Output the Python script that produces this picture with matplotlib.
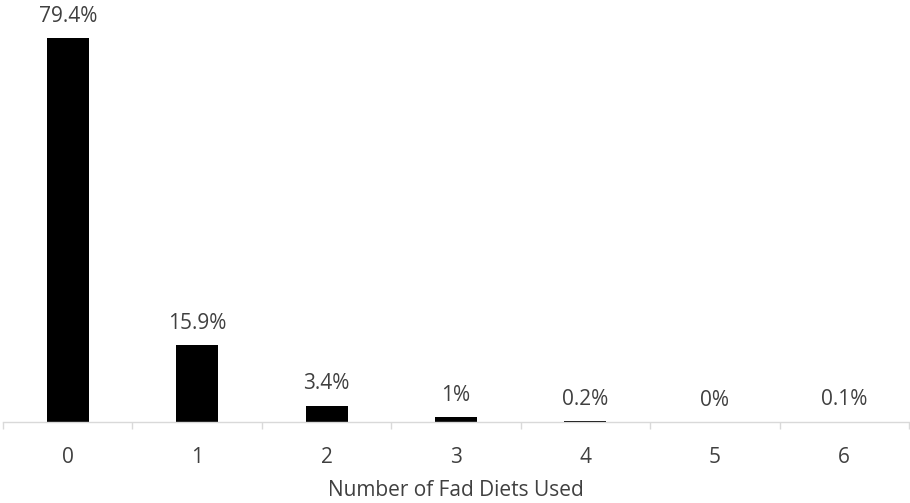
import matplotlib.pyplot as plt
import numpy as np

plt.rcParams['font.family'] = ['Open Sans', 'DejaVu Sans']

categories = ['0', '1', '2', '3', '4', '5', '6']
values = [79.4, 15.9, 3.4, 1.0, 0.2, 0.0, 0.1]
labels = ['79.4%', '15.9%', '3.4%', '1%', '0.2%', '0%', '0.1%']

text_color = '#404040'
axis_color = '#d9d9d9'
fs = 15

fig = plt.figure(figsize=(9.1, 5.03), dpi=100)
ax = fig.add_axes([3 / 910, 81 / 503, 906 / 910, 422 / 503])

x = np.arange(len(categories))
bars = ax.bar(x, values, width=0.325, color='black')

for xi, v, lab in zip(x, values, labels):
    ax.annotate(lab, (xi, v), xytext=(0, 8), textcoords='offset points',
                ha='center', va='bottom', fontsize=fs, color=text_color)

ax.set_xlim(-0.5, len(categories) - 0.5)
ax.set_ylim(0, 87.3)
ax.set_yticks([])
ax.set_xticks(x)
ax.set_xticklabels(categories, fontsize=fs, color=text_color)
ax.set_xticks(np.arange(-0.5, len(categories)), minor=True)
ax.tick_params(axis='x', which='major', length=0, pad=18)
ax.tick_params(axis='x', which='minor', length=5, color=axis_color, width=1)

for side in ['top', 'right', 'left']:
    ax.spines[side].set_visible(False)
ax.spines['bottom'].set_color(axis_color)
ax.spines['bottom'].set_linewidth(1)

ax.set_xlabel('Number of Fad Diets Used', fontsize=fs, color=text_color, labelpad=9)

fig.savefig('out.png', dpi=100)
